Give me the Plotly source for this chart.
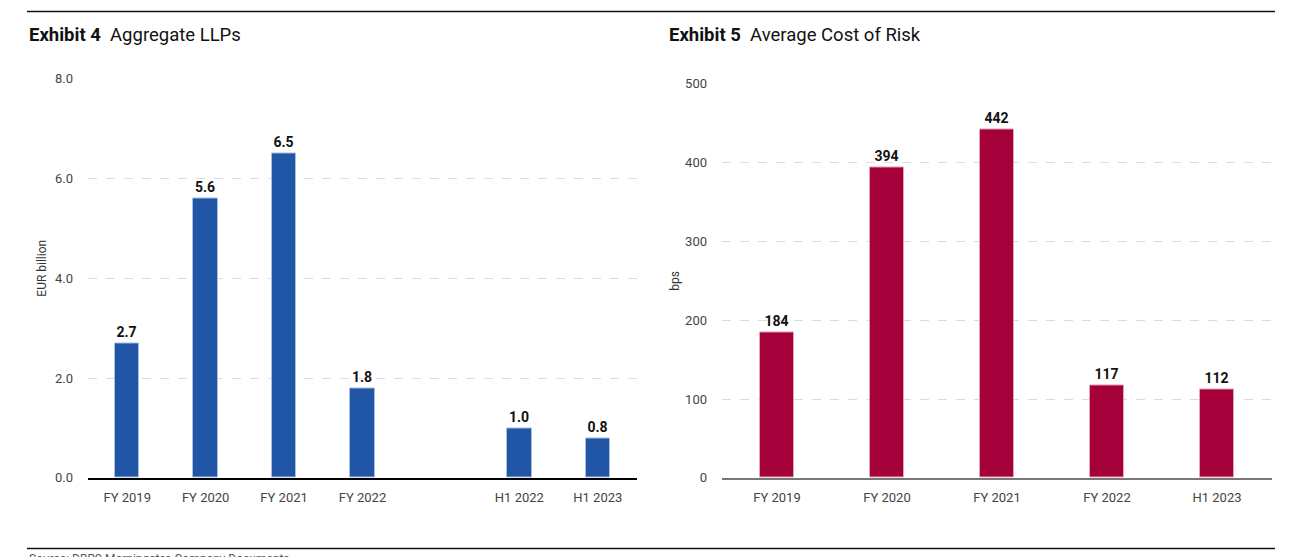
import plotly.graph_objects as go

# ---- data ----
llp_categories = ["FY 2019", "FY 2020", "FY 2021", "FY 2022", "", "H1 2022", "H1 2023"]
llp_values = [2.7, 5.6, 6.5, 1.8, None, 1.0, 0.8]
llp_ticks = [0.0, 2.0, 4.0, 6.0, 8.0]

cor_categories = ["FY 2019", "FY 2020", "FY 2021", "FY 2022", "H1 2023"]
cor_values = [184, 394, 442, 117, 112]
cor_ticks = [0, 100, 200, 300, 400, 500]

W, H = 1297, 557
FONT = "Roboto, Liberation Sans Narrow, Arial"
BLUE = "#2155a5"
RED = "#a5003a"

def px(x):
    return x / W

def py(y):
    # map a target pixel row to paper coordinates (compensating the capture offset)
    yy = (y - 7.6) / 0.972
    return 1 - yy / H

fig = go.Figure()

llp_x = [i for i, v in enumerate(llp_values) if v is not None]
llp_y = [v for v in llp_values if v is not None]
fig.add_trace(go.Bar(
    x=llp_x, y=llp_y, width=0.31,
    marker=dict(color=BLUE, line=dict(color="#a8bfe3", width=1)),
    text=[f"{v:.1f}" for v in llp_y], textposition="outside",
    textfont=dict(family=FONT, size=14, color="#111111", weight="bold"),
    cliponaxis=False, xaxis="x", yaxis="y", showlegend=False,
))

cor_x = list(range(len(cor_values)))
fig.add_trace(go.Bar(
    x=cor_x, y=cor_values, width=0.31,
    marker=dict(color=RED, line=dict(color="#e3a3b8", width=1)),
    text=[str(v) for v in cor_values], textposition="outside",
    textfont=dict(family=FONT, size=14, color="#111111", weight="bold"),
    cliponaxis=False, xaxis="x2", yaxis="y2", showlegend=False,
))

tickfont = dict(family=FONT, size=13, color="#444444")
grid = dict(showgrid=True, gridcolor="#dcdcdc", griddash="dash", gridwidth=1)

fig.update_layout(
    width=W, height=H,
    margin=dict(l=0, r=0, t=0, b=0),
    paper_bgcolor="white", plot_bgcolor="white",
    bargap=0,
    xaxis=dict(domain=[px(88), px(637)], range=[-0.5, 6.5],
               tickvals=[i for i, c in enumerate(llp_categories) if c],
               ticktext=[c for c in llp_categories if c],
               tickfont=tickfont, showgrid=False, zeroline=False,
               showline=True, linecolor="#000000", linewidth=2,
               ticks="", ticklabelstandoff=6, anchor="y"),
    yaxis=dict(domain=[py(478), py(79)], range=[0, 8],
               tickvals=llp_ticks, ticktext=[f"{t:.1f}" for t in llp_ticks],
               tickfont=tickfont, zeroline=False, showline=False, ticks="",
               ticklabelstandoff=14, anchor="x", **grid),
    xaxis2=dict(domain=[px(722), px(1272)], range=[-0.5, 4.5],
                tickvals=cor_x, ticktext=cor_categories,
                tickfont=tickfont, showgrid=False, zeroline=False,
                showline=True, linecolor="#777777", linewidth=2,
                ticks="", ticklabelstandoff=6, anchor="y2"),
    yaxis2=dict(domain=[py(478), py(84)], range=[0, 500],
                tickvals=cor_ticks, ticktext=[str(t) for t in cor_ticks],
                tickfont=tickfont, zeroline=False, showline=False, ticks="",
                ticklabelstandoff=14, anchor="x2", **grid),
)

# axis titles
fig.add_annotation(x=px(42), y=py(269), xref="paper", yref="paper",
                   xanchor="center", yanchor="middle", showarrow=False,
                   textangle=-90, text="EUR billion",
                   font=dict(family=FONT, size=12, color="#333333"))
fig.add_annotation(x=px(675), y=py(281), xref="paper", yref="paper",
                   xanchor="center", yanchor="middle", showarrow=False,
                   textangle=-90, text="bps",
                   font=dict(family=FONT, size=12, color="#333333"))

# titles
fig.add_annotation(x=px(27), y=py(36), xref="paper", yref="paper",
                   xanchor="left", yanchor="middle", showarrow=False,
                   text="<b>Exhibit 4</b>  Aggregate LLPs",
                   font=dict(family=FONT, size=18.5, color="#111111"))
fig.add_annotation(x=px(667), y=py(36), xref="paper", yref="paper",
                   xanchor="left", yanchor="middle", showarrow=False,
                   text="<b>Exhibit 5</b>  Average Cost of Risk",
                   font=dict(family=FONT, size=18.5, color="#111111"))

# rules
fig.add_shape(type="line", xref="paper", yref="paper",
              x0=px(27), x1=px(1275), y0=py(12), y1=py(12),
              line=dict(color="#111111", width=1.5))
fig.add_shape(type="line", xref="paper", yref="paper",
              x0=px(27), x1=px(1275), y0=py(548.5), y1=py(548.5),
              line=dict(color="#111111", width=1.5))

# source (partly below the bottom edge, as in the reference)
fig.add_annotation(x=px(27), y=py(550), xref="paper", yref="paper",
                   xanchor="left", yanchor="top", showarrow=False,
                   text="Source: DBRS Morningstar, Company Documents.",
                   font=dict(family=FONT, size=12, color="#555555"))

fig.write_html(
    "out.html",
    config={"displayModeBar": False},
    post_script="document.body.style.margin='0';document.body.style.overflow='hidden';",
)
